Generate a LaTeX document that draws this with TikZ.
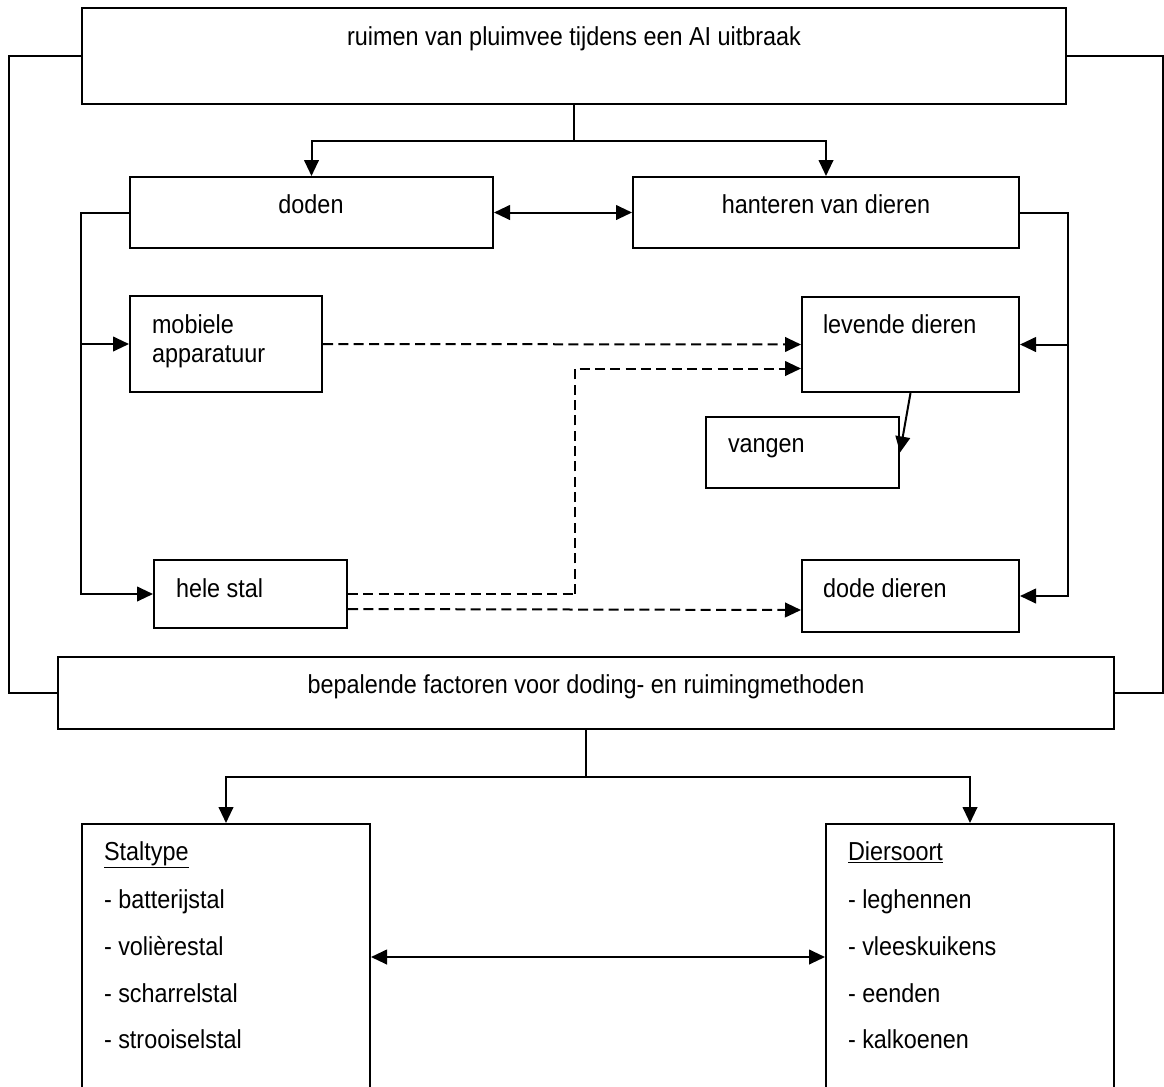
\documentclass[tikz,border=0pt]{standalone}
\usepackage{fontspec}
\setmainfont[FakeStretch=0.9]{Liberation Sans}
\usetikzlibrary{arrows.meta,fit,calc}
\begin{document}
\begin{tikzpicture}[x=0.75pt,y=-0.75pt,
  line width=1.5pt,
  box/.style={draw, inner sep=0pt, line width=1.5pt},
  txt/.style={inner sep=0pt, anchor=base west, font=\fontsize{19.5}{23}\selectfont},
  ctxt/.style={inner sep=0pt, anchor=base, font=\fontsize{19.5}{23}\selectfont},
  arr/.style={-{Triangle[length=12pt,width=11pt]}},
  arrb/.style={{Triangle[length=12pt,width=11pt]}-{Triangle[length=12pt,width=11pt]}},
  darr/.style={dashed, dash pattern=on 7.5pt off 4pt, -{Triangle[length=12pt,width=11pt]}},
  dline/.style={dashed, dash pattern=on 7.5pt off 4pt}]
\clip (0,0) rectangle (1164,1086);
% boxes
\node[box, fit={(82,8) (1066,104)}] (top) {};
\node[box, fit={(130,177) (493,248)}] (doden) {};
\node[box, fit={(633,177) (1019,248)}] (hant) {};
\node[box, fit={(130,296) (322,392)}] (mob) {};
\node[box, fit={(802,297) (1019,392)}] (lev) {};
\node[box, fit={(706,417) (899,488)}] (vang) {};
\node[box, fit={(154,560) (347,628)}] (hele) {};
\node[box, fit={(802,560) (1019,632)}] (dode) {};
\node[box, fit={(58,657) (1114,729)}] (bep) {};
\node[box, fit={(82,824) (370,1090)}] (stal) {};
\node[box, fit={(826,824) (1114,1090)}] (dier) {};
% texts
\node[ctxt] (ttop) at (574,45) {ruimen van pluimvee tijdens een AI uitbraak};
\node[ctxt] (tdoden) at (311,213) {doden};
\node[ctxt] (thant) at (826,213) {hanteren van dieren};
\node[txt] (tmob1) at (151,333) {mobiele};
\node[txt] (tmob2) at (151,362) {apparatuur};
\node[txt] (tlev) at (822,333) {levende dieren};
\node[txt] (tvang) at (727,452) {vangen};
\node[txt] (thele) at (175,597) {hele stal};
\node[txt] (tdode) at (822,597) {dode dieren};
\node[ctxt] (tbep) at (586,693) {bepalende factoren voor doding- en ruimingmethoden};
\node[txt] (s0) at (103,860) {\underline{Staltype}};
\node[txt] (s1) at (103,908) {- batterijstal};
\node[txt] (s2) at (103,955) {- volièrestal};
\node[txt] (s3) at (103,1002) {- scharrelstal};
\node[txt] (s4) at (103,1048) {- strooiselstal};
\node[txt] (d0) at (847,860) {\underline{Diersoort}};
\node[txt] (d1) at (847,908) {- leghennen};
\node[txt] (d2) at (847,955) {- vleeskuikens};
\node[txt] (d3) at (847,1002) {- eenden};
\node[txt] (d4) at (847,1048) {- kalkoenen};
% connectors
\draw[arr] (top.south) -- ++(0,36) -| (doden.north);
\draw[arr] (top.south) -- ++(0,36) -| (hant.north);
\draw[arrb] (doden.east) -- (hant.west);
\draw[arr] (doden.west) -- ++(-48,0) |- (mob.west);
\draw[arr] (doden.west) -- ++(-48,0) |- (hele.west);
\draw[arr] (hant.east) -- ++(48,0) |- (lev.east);
\draw[arr] (hant.east) -- ++(48,0) |- (dode.east);
\draw (top.west) -- ++(-72,0) |- (bep.west);
\draw (top.east) -- ++(96,0) |- (bep.east);
\draw[darr] (mob.east) -- (lev.west);
\draw[dline] (hele.east) -- ++(227,0) coordinate (hk);
\draw[darr] (hk) |- ($(lev.west)+(0,24)$);
\draw[darr] ($(hele.east)+(0,15)$) -- ($(dode.west)+(0,14)$);
\draw[arr] (lev.south) -- (vang.east);
\draw[arr] (bep.south) -- ++(0,47) -| (stal.north);
\draw[arr] (bep.south) -- ++(0,47) -| (dier.north);
\draw[arrb] (stal.east) -- (dier.west);
\end{tikzpicture}
\end{document}
